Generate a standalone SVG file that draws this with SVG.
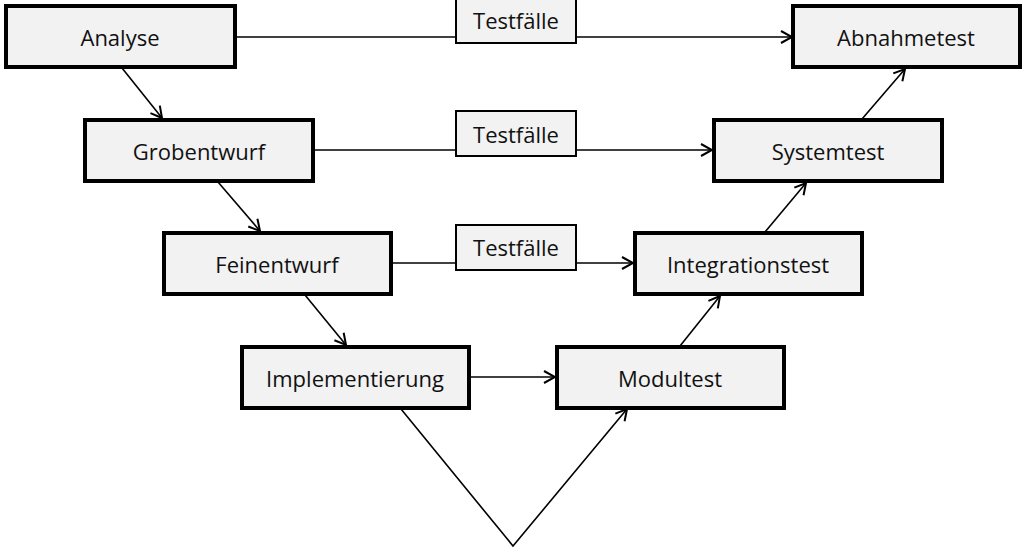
<svg xmlns="http://www.w3.org/2000/svg" width="1028" height="555" viewBox="0 0 1028 555">
<defs>
<marker id="arr" markerUnits="userSpaceOnUse" markerWidth="16" markerHeight="16" viewBox="0 0 16 16" refX="14" refY="8" orient="auto">
<path d="M3,2 L14,8 L3,14" fill="none" stroke="#000" stroke-width="2"/>
</marker>
<style>
.box{fill:#f2f2f2;stroke:#000;stroke-width:4}
.lbl{fill:#f2f2f2;stroke:#000;stroke-width:2}
.t{font-family:"Open Sans","Liberation Sans",sans-serif;font-size:22px;fill:#111;text-anchor:middle;dominant-baseline:central}
.c{fill:none;stroke:#000;stroke-width:1.6}
</style>
</defs>
<rect width="1028" height="555" fill="#fff"/>
<g id="connectors">
<line class="c" x1="236" y1="37" x2="792" y2="37" marker-end="url(#arr)"/>
<line class="c" x1="313" y1="150" x2="712" y2="150" marker-end="url(#arr)"/>
<line class="c" x1="391" y1="263" x2="633" y2="263" marker-end="url(#arr)"/>
<line class="c" x1="470" y1="377" x2="555" y2="377" marker-end="url(#arr)"/>
<line class="c" x1="122" y1="68" x2="162" y2="118" marker-end="url(#arr)"/>
<line class="c" x1="218" y1="182" x2="260" y2="231" marker-end="url(#arr)"/>
<line class="c" x1="305" y1="295" x2="346" y2="345" marker-end="url(#arr)"/>
<polyline class="c" points="401,409 513,546 627,409" marker-end="url(#arr)"/>
<line class="c" x1="680" y1="346" x2="720" y2="296" marker-end="url(#arr)"/>
<line class="c" x1="765" y1="232" x2="806" y2="183" marker-end="url(#arr)"/>
<line class="c" x1="862" y1="119" x2="905" y2="69" marker-end="url(#arr)"/>
</g>
<g id="tf1"><rect class="lbl" x="456" y="-2" width="120" height="45"/><text class="t" x="516" y="20">Testfälle</text></g>
<g id="tf2"><rect class="lbl" x="456" y="111" width="120" height="45"/><text class="t" x="516" y="134">Testfälle</text></g>
<g id="tf3"><rect class="lbl" x="456" y="225" width="120" height="45"/><text class="t" x="516" y="247">Testfälle</text></g>
<g id="analyse"><rect class="box" x="6" y="6" width="229" height="61"/><text class="t" x="120" y="37">Analyse</text></g>
<g id="abnahmetest"><rect class="box" x="793" y="6" width="227" height="61"/><text class="t" x="906" y="37">Abnahmetest</text></g>
<g id="grobentwurf"><rect class="box" x="85" y="120" width="228" height="61"/><text class="t" x="199" y="151">Grobentwurf</text></g>
<g id="systemtest"><rect class="box" x="714" y="120" width="228" height="61"/><text class="t" x="828" y="151">Systemtest</text></g>
<g id="feinentwurf"><rect class="box" x="164" y="233" width="227" height="61"/><text class="t" x="277" y="264">Feinentwurf</text></g>
<g id="integrationstest"><rect class="box" x="635" y="233" width="227" height="61"/><text class="t" x="748" y="264">Integrationstest</text></g>
<g id="implementierung"><rect class="box" x="242" y="347" width="227" height="61"/><text class="t" x="355" y="378">Implementierung</text></g>
<g id="modultest"><rect class="box" x="557" y="347" width="227" height="61"/><text class="t" x="670" y="378">Modultest</text></g>
</svg>
